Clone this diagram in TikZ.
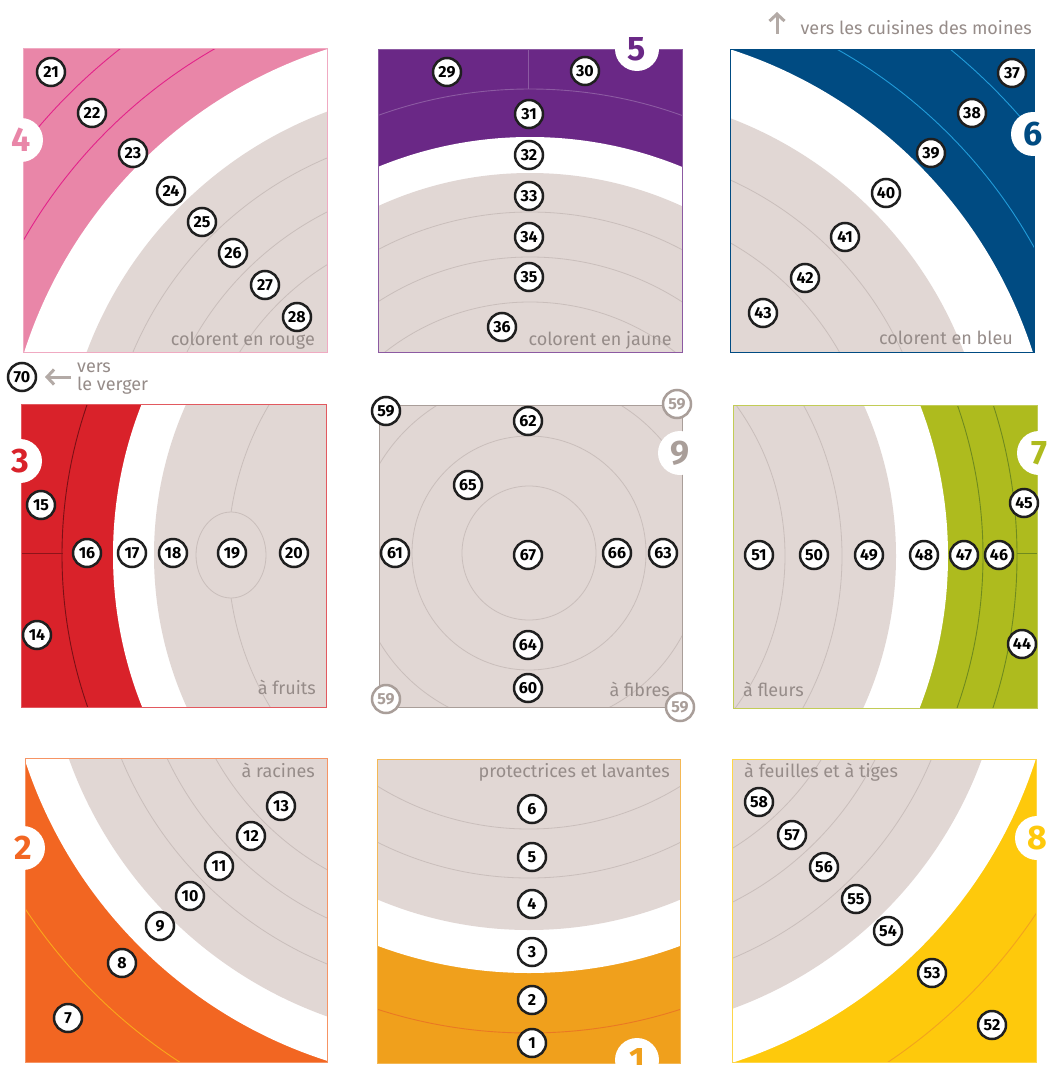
\documentclass[tikz,border=0pt]{standalone}
\usepackage{fontspec}
\setmainfont{Fira Sans}
\usetikzlibrary{arrows.meta}
\definecolor{beige}{HTML}{E1D7D4}
\definecolor{arcc}{HTML}{C9BEBB}
\definecolor{txtg}{HTML}{968C89}
\definecolor{pinkc}{HTML}{E986A8}
\definecolor{pinkl}{HTML}{E3238A}
\definecolor{purc}{HTML}{6A2886}
\definecolor{purl}{HTML}{8C5AA2}
\definecolor{bluec}{HTML}{004B82}
\definecolor{bluel}{HTML}{229CDA}
\definecolor{redc}{HTML}{D9222A}
\definecolor{redl}{HTML}{7A1016}
\definecolor{greenc}{HTML}{AEBB1E}
\definecolor{greenl}{HTML}{6F8A1E}
\definecolor{orc}{HTML}{F26622}
\definecolor{orl}{HTML}{F9A81B}
\definecolor{ambc}{HTML}{F0A01C}
\definecolor{ambl}{HTML}{EA7823}
\definecolor{yelc}{HTML}{FEC90C}
\definecolor{yell}{HTML}{F2A21E}
\definecolor{grayb}{HTML}{A99E99}
\definecolor{arrg}{HTML}{B3AAA6}
\tikzset{
  numc/.style={circle, draw=black!88, line width=2.5pt, fill=white, minimum size=28pt, inner sep=0pt, font=\fontsize{16}{16}\selectfont\bfseries},
  numg/.style={numc, draw=grayb, text=grayb},
  lab/.style={circle, fill=white, minimum size=44pt, inner sep=0pt, font=\fontsize{34}{34}\selectfont\bfseries},
  lbl/.style={text=txtg, inner sep=0pt, font=\fontsize{18}{18}\selectfont},
  arcline/.style={draw=arcc, line width=0.8pt},
  garrow/.style={draw=arrg, line width=3pt, -{Straight Barb[length=7pt,width=15pt]}}
}
\begin{document}
\begin{tikzpicture}[x=1pt,y=-1pt]
\useasboundingbox (0,0) rectangle (1049,1065);
\clip (0,0) rectangle (1049,1065);
\fill[white] (0,0) rectangle (1049,1065);

% ---------- Panel 4 (top left, pink)
\begin{scope}
\clip (23,49) rectangle (327,352);
\fill[pinkc] (23,49) rectangle (327,352);
\draw[pinkl, line width=0.9pt] (470,495) circle[radius=514] (470,495) circle[radius=567];
\fill[white] (470,495) circle[radius=468];
\fill[beige] (470,495) circle[radius=409];
\draw[arcline] (470,495) circle[radius=366] (470,495) circle[radius=317] (470,495) circle[radius=271];
\end{scope}
\draw[pinkc!70, line width=1pt] (23,49) rectangle (327,352);

% ---------- Panel 5 (top middle, purple)
\begin{scope}
\clip (378,50) rectangle (682,352);
\fill[purc] (378,50) rectangle (682,352);
\draw[purl, line width=0.9pt] (528,50) -- (528,89);
\draw[purl, line width=0.9pt] (530,537) circle[radius=448];
\fill[white] (530,537) circle[radius=400];
\fill[beige] (530,537) circle[radius=364];
\draw[arcline] (530,537) circle[radius=325] (530,537) circle[radius=280] (530,537) circle[radius=235];
\end{scope}
\draw[purl, line width=1pt] (378,50) rectangle (682,352);

% ---------- Panel 6 (top right, blue)
\begin{scope}
\clip (730,50) rectangle (1034,352);
\fill[bluec] (730,50) rectangle (1034,352);
\draw[bluel, line width=0.9pt] (587,495) circle[radius=511] (587,495) circle[radius=575];
\fill[white] (587,495) circle[radius=468];
\fill[beige] (587,495) circle[radius=403];
\draw[arcline] (587,495) circle[radius=346] (587,495) circle[radius=290];
\end{scope}
\draw[bluec, line width=1pt] (730,50) rectangle (1034,352);

% ---------- Panel 3 (middle left, red)
\begin{scope}
\clip (21,404) rectangle (326,707);
\fill[redc] (21,404) rectangle (326,707);
\draw[redl, line width=0.9pt] (523,555) circle[radius=461];
\draw[redl!80!redc, line width=0.9pt] (21,553) -- (63,553);
\fill[white] (523,555) circle[radius=410];
\fill[beige] (523,555) circle[radius=369];
\draw[arcline] (523,555) circle[radius=295];
\filldraw[fill=beige, draw=arcc, line width=0.8pt] (231,555) ellipse[x radius=35, y radius=43];
\end{scope}
\draw[redc!75, line width=1pt] (21,404) rectangle (326,707);

% ---------- Panel 9 (centre)
\begin{scope}
\clip (379,405) rectangle (682,707);
\fill[beige] (379,405) rectangle (682,707);
\draw[arcline] (529,553) circle[radius=174] (529,553) circle[radius=117] (529,553) circle[radius=67];
\end{scope}
\draw[grayb, line width=1pt] (379,405) rectangle (682,707);

% ---------- Panel 7 (middle right, green)
\begin{scope}
\clip (733,405) rectangle (1037,708);
\fill[greenc] (733,405) rectangle (1037,708);
\draw[greenl, line width=0.9pt] (528,556) circle[radius=455] (528,556) circle[radius=489];
\draw[greenl, line width=0.9pt] (1017,553) -- (1037,553);
\fill[white] (528,556) circle[radius=420];
\fill[beige] (528,556) circle[radius=368];
\draw[arcline] (528,556) circle[radius=314] (528,556) circle[radius=257];
\end{scope}
\draw[greenc!75, line width=1pt] (733,405) rectangle (1037,708);

% ---------- Panel 2 (bottom left, orange)
\begin{scope}
\clip (25,758) rectangle (327,1062);
\fill[orc] (25,758) rectangle (327,1062);
\draw[orl, line width=0.9pt] (470,615) circle[radius=533];
\fill[white] (470,615) circle[radius=468];
\fill[beige] (470,615) circle[radius=426];
\draw[arcline] (470,615) circle[radius=377] (470,615) circle[radius=335] (470,615) circle[radius=292];
\end{scope}
\draw[orc!70, line width=1pt] (25,758) rectangle (327,1062);

% ---------- Panel 1 (bottom middle, amber)
\begin{scope}
\clip (377,759) rectangle (680,1063);
\fill[ambc] (377,759) rectangle (680,1063);
\draw[ambl, line width=0.9pt] (529,540) circle[radius=493];
\fill[white] (529,540) circle[radius=433];
\fill[beige] (529,540) circle[radius=390];
\draw[arcline] (529,540) circle[radius=338] (529,540) circle[radius=289];
\end{scope}
\draw[ambc!75, line width=1pt] (377,759) rectangle (680,1063);

% ---------- Panel 8 (bottom right, yellow)
\begin{scope}
\clip (732,759) rectangle (1036,1062);
\fill[yelc] (732,759) rectangle (1036,1062);
\draw[yell, line width=0.9pt] (589,616) circle[radius=537];
\fill[white] (589,616) circle[radius=469];
\fill[beige] (589,616) circle[radius=418];
\draw[arcline] (589,616) circle[radius=371] (589,616) circle[radius=320] (589,616) circle[radius=273];
\end{scope}
\draw[yelc!75, line width=1pt] (732,759) rectangle (1036,1062);

% ---------- panel labels
\node[lab, text=pinkc] (p4) at (21,140) {4};
\node[lab, text=purc] (p5) at (637,49) {5};
\node[lab, text=bluec] (p6) at (1033,134) {6};
\node[lab, text=redc] (p3) at (20,461) {3};
\node[lab, text=grayb] (p9) at (680,453) {9};
\node[lab, text=greenc] (p7) at (1039,453) {7};
\node[lab, text=orc] (p2) at (23,848) {2};
\node[lab, text=ambc] (p1) at (637,1060) {1};
\node[lab, text=yelc] (p8) at (1037,838) {8};

% ---------- texts
\node[lbl, anchor=base east] (t4) at (315,345) {colorent en rouge};
\node[lbl, anchor=base east] (t5) at (672,345) {colorent en jaune};
\node[lbl, anchor=base east] (t6) at (1013,344) {colorent en bleu};
\node[lbl, anchor=base east] (t3) at (316,694) {à fruits};
\node[lbl, anchor=base east] (t9) at (670,696) {à fibres};
\node[lbl, anchor=base west] (t7) at (743,696) {à fleurs};
\node[lbl, anchor=base east] (t2) at (315,777) {à racines};
\node[lbl, anchor=base east] (t1) at (670,777) {protectrices et lavantes};
\node[lbl, anchor=base west] (t8) at (744,777) {à feuilles et à tiges};
\node[lbl, anchor=base east] (tc) at (1032,35) {vers les cuisines des moines};
\node[lbl, anchor=base west] (tv1) at (77,372) {vers};
\node[lbl, anchor=base west] (tv2) at (77,390) {le verger};

% ---------- arrows
\coordinate (au1) at (777,34);
\coordinate (au2) at (777,12);
\draw[garrow] (au1) -- (au2);
\coordinate (al1) at (71,377);
\coordinate (al2) at (45,377);
\draw[garrow] (al1) -- (al2);

% ---------- numbers
\node[numc] (n21) at (51,72) {21};
\node[numc] (n22) at (92,113) {22};
\node[numc] (n23) at (133,153) {23};
\node[numc] (n24) at (171,191) {24};
\node[numc] (n25) at (202,222) {25};
\node[numc] (n26) at (233,253) {26};
\node[numc] (n27) at (265,285) {27};
\node[numc] (n28) at (297,317) {28};

\node[numc] (n29) at (447,72) {29};
\node[numc] (n30) at (585,71) {30};
\node[numc] (n31) at (529,114) {31};
\node[numc] (n32) at (529,155) {32};
\node[numc] (n33) at (529,196) {33};
\node[numc] (n34) at (529,237) {34};
\node[numc] (n35) at (529,277) {35};
\node[numc] (n36) at (502,327) {36};

\node[numc] (n37) at (1012,73) {37};
\node[numc] (n38) at (972,113) {38};
\node[numc] (n39) at (931,153) {39};
\node[numc] (n40) at (886,193) {40};
\node[numc] (n41) at (845,237) {41};
\node[numc] (n42) at (805,278) {42};
\node[numc] (n43) at (763,313) {43};

\node[numc] (n70) at (22,377) {70};
\node[numc] (n15) at (41,505) {15};
\node[numc] (n16) at (87,553) {16};
\node[numc] (n17) at (132,553) {17};
\node[numc] (n18) at (173,553) {18};
\node[numc] (n19) at (232,553) {19};
\node[numc] (n20) at (294,553) {20};
\node[numc] (n14) at (37,635) {14};

\node[numc] (n59) at (386,411) {59};
\node[numg] (n59b) at (677,404) {59};
\node[numg] (n59c) at (386,699) {59};
\node[numg] (n59d) at (680,707) {59};
\node[numc] (n62) at (528,421) {62};
\node[numc] (n65) at (468,485) {65};
\node[numc] (n61) at (395,553) {61};
\node[numc] (n67) at (528,555) {67};
\node[numc] (n66) at (617,553) {66};
\node[numc] (n63) at (663,553) {63};
\node[numc] (n64) at (528,645) {64};
\node[numc] (n60) at (528,688) {60};

\node[numc] (n51) at (759,555) {51};
\node[numc] (n50) at (814,555) {50};
\node[numc] (n49) at (869,555) {49};
\node[numc] (n48) at (924,555) {48};
\node[numc] (n47) at (964,555) {47};
\node[numc] (n46) at (999,555) {46};
\node[numc] (n45) at (1024,503) {45};
\node[numc] (n44) at (1022,644) {44};

\node[numc] (n13) at (281,806) {13};
\node[numc] (n12) at (251,836) {12};
\node[numc] (n11) at (219,866) {11};
\node[numc] (n10) at (190,896) {10};
\node[numc] (n9) at (160,926) {9};
\node[numc] (n8) at (122,963) {8};
\node[numc] (n7) at (68,1018) {7};

\node[numc] (n6) at (532,809) {6};
\node[numc] (n5) at (532,857) {5};
\node[numc] (n4) at (532,904) {4};
\node[numc] (n3) at (532,952) {3};
\node[numc] (n2) at (532,1000) {2};
\node[numc] (n1) at (532,1043) {1};

\node[numc] (n58) at (759,802) {58};
\node[numc] (n57) at (792,835) {57};
\node[numc] (n56) at (824,867) {56};
\node[numc] (n55) at (856,899) {55};
\node[numc] (n54) at (888,931) {54};
\node[numc] (n53) at (932,973) {53};
\node[numc] (n52) at (992,1025) {52};
\end{tikzpicture}
\end{document}
